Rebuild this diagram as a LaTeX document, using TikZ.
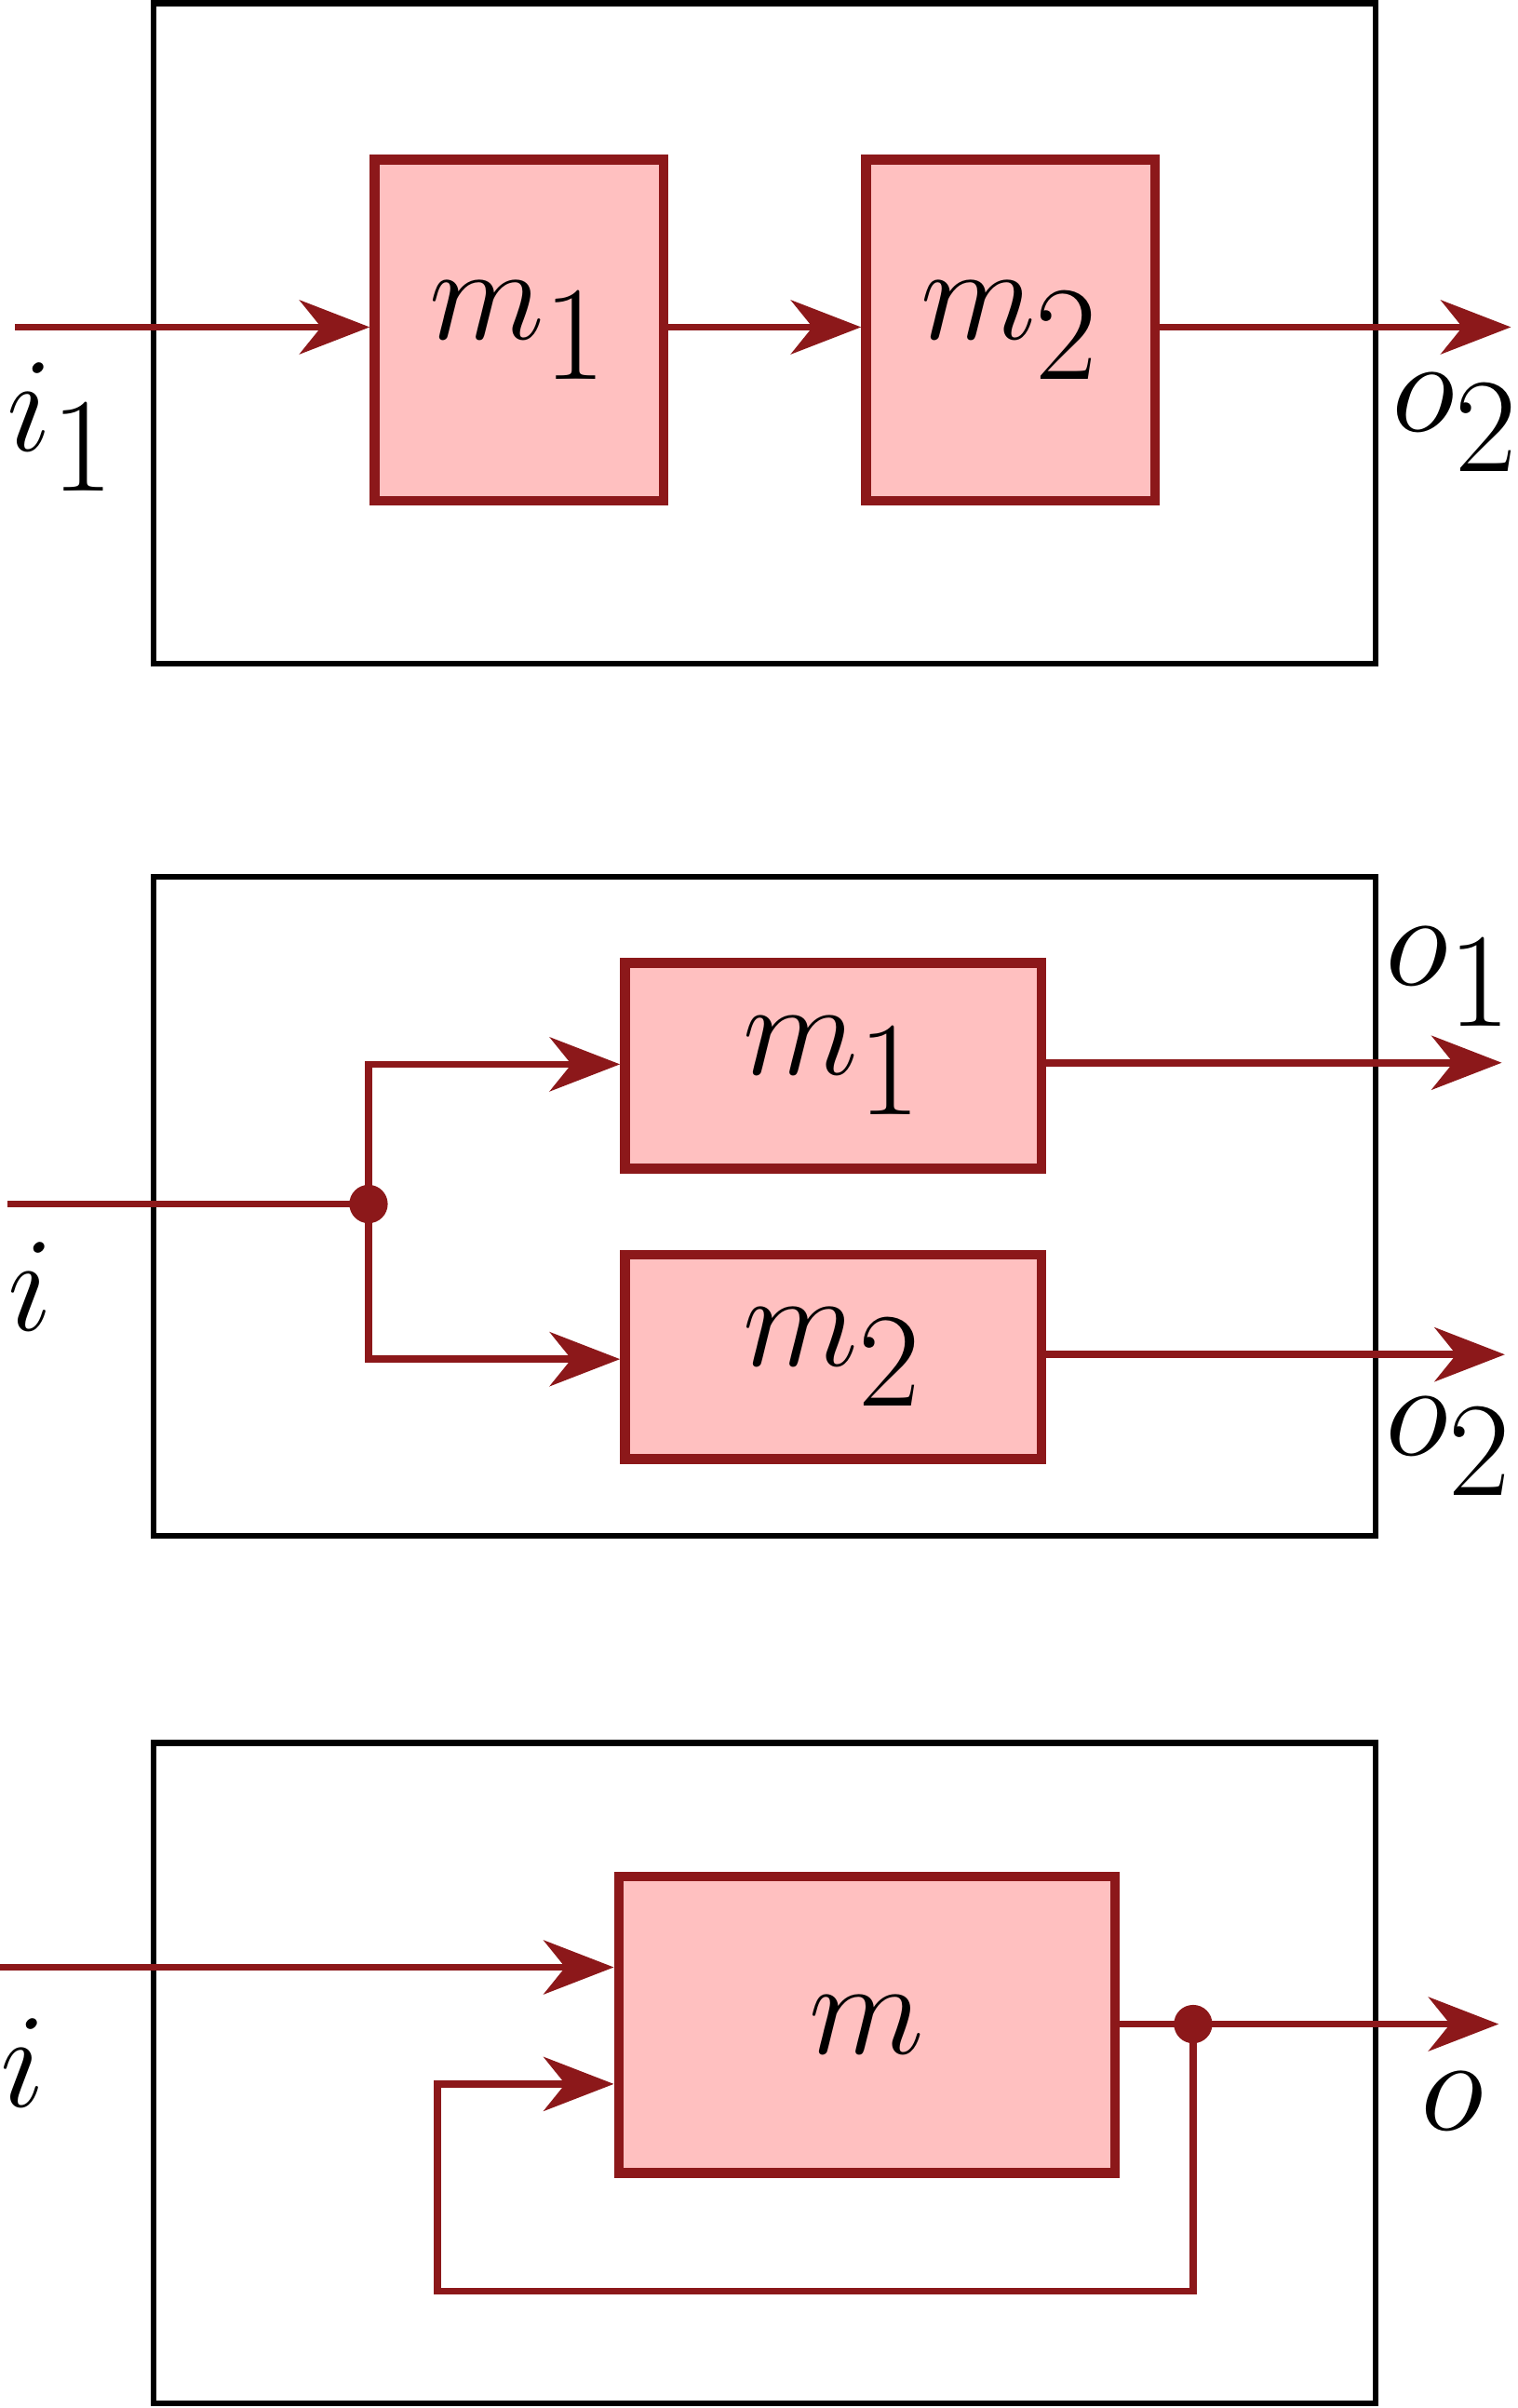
\documentclass[tikz,border=0pt]{standalone}
\usetikzlibrary{arrows.meta}
\begin{document}
\definecolor{dr}{RGB}{140,24,26}
\definecolor{pk}{RGB}{255,192,192}
\begin{tikzpicture}[x=0.01cm,y=-0.01cm,
  frame/.style={draw=black,line width=1.1pt},
  mod/.style={draw=dr,fill=pk,line width=1.8pt,inner sep=0pt,font=\fontsize{33}{40}\selectfont},
  wire/.style={draw=dr,line width=1.3pt},
  arr/.style={wire,-{Stealth[length=13pt,width=10pt,inset=4pt]}},
  dot/.style={circle,fill=dr,inner sep=0pt,minimum size=0.25cm},
  lab/.style={font=\fontsize{33}{40}\selectfont}]
\useasboundingbox (0,0) rectangle (988,1568);
% panel 1
\draw[frame] (100,2) rectangle (896,432);
\node[mod,minimum width=1.88cm,minimum height=2.22cm] (a1) at (338,215) {$m_1$};
\node[mod,minimum width=1.88cm,minimum height=2.22cm] (a2) at (658,215) {$m_2$};
\coordinate (ain) at (10,213);
\coordinate (aout) at (984,213);
\draw[arr] (ain) -- (a1.west |- ain);
\draw[arr] (a1.east |- ain) -- (a2.west |- ain);
\draw[arr] (a2.east |- ain) -- (aout);
\node[lab] (ai) at (40,278) {$i_1$};
\node[lab] (ao) at (948,275) {$o_2$};
% panel 2
\draw[frame] (100,571) rectangle (896,1000);
\node[mod,minimum width=2.71cm,minimum height=1.34cm] (b1) at (542.5,694) {$m_1$};
\node[mod,minimum width=2.71cm,minimum height=1.33cm] (b2) at (542.5,883.5) {$m_2$};
\coordinate (bin) at (5,784);
\node[dot] (bd) at (240,784) {};
\coordinate (bo1) at (978,692);
\coordinate (bo2) at (980,882);
\draw[wire] (bin) -- (bd.center);
\draw[arr] (bd.center) |- (b1.west |- 0,693);
\draw[arr] (bd.center) |- (b2.west |- 0,885);
\draw[arr] (b1.east |- bo1) -- (bo1);
\draw[arr] (b2.east |- bo2) -- (bo2);
\node[lab] (bo1l) at (944,636) {$o_1$};
\node[lab] (bil) at (20,838) {$i$};
\node[lab] (bo2l) at (944,942) {$o_2$};
% panel 3
\draw[frame] (100,1135) rectangle (896,1565);
\node[mod,minimum width=3.23cm,minimum height=1.93cm] (c) at (564.5,1318.5) {$m$};
\coordinate (cin) at (0,1281);
\coordinate (cout) at (976,1318);
\node[dot] (cd) at (777,1318) {};
\coordinate (cb) at (285,1492);
\draw[arr] (cin) -- (c.west |- cin);
\draw[arr] (c.east |- cout) -- (cout);
\draw[arr] (cd.center) |- (cb) |- (c.west |- 0,1357);
\node[lab] (cil) at (15,1343) {$i$};
\node[lab] (col) at (946,1368) {$o$};
\end{tikzpicture}
\end{document}
